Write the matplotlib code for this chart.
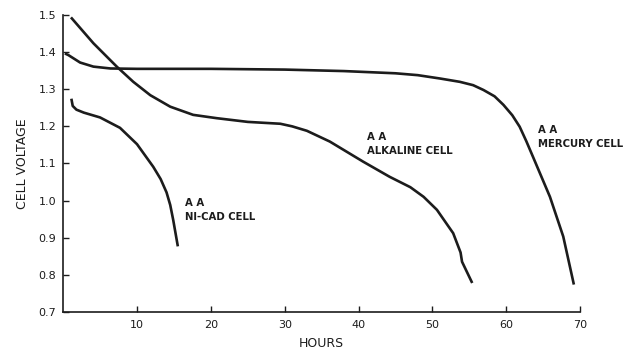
import matplotlib.pyplot as plt

# discharge curves (hours, volts)
nicad_hours = [1.15, 1.3, 1.8, 2.8, 5.0, 7.7, 10.0, 12.2, 13.2, 14.0, 14.5, 14.9, 15.5]
nicad_volts = [1.271, 1.255, 1.245, 1.237, 1.224, 1.196, 1.152, 1.091, 1.058, 1.022, 0.988,
               0.948, 0.88]

alkaline_hours = [1.18, 4.1, 7.26, 9.5, 11.8, 14.5, 17.6, 20.8, 25.0, 29.4, 31.0,
                  33.0, 36.1, 40.6, 44.2, 47.0, 48.8, 50.6, 52.8, 53.8, 54.0, 55.3]
alkaline_volts = [1.491, 1.424, 1.361, 1.32, 1.284, 1.253, 1.231, 1.222, 1.212, 1.207, 1.2,
                  1.188, 1.159, 1.105, 1.064, 1.036, 1.01, 0.975, 0.912, 0.86, 0.835, 0.781]

mercury_hours = [0.4, 0.72, 2.3, 4.1, 6.4, 10.0, 20.0, 30.0, 38.0, 45.0, 48.0,
                 51.0, 53.7, 55.5, 56.9, 58.4, 59.6, 60.8, 61.8, 62.7, 63.6, 65.9, 67.7, 69.1]
mercury_volts = [1.395, 1.392, 1.372, 1.361, 1.356, 1.355, 1.355, 1.353, 1.349, 1.343, 1.338,
                 1.329, 1.32, 1.311, 1.298, 1.281, 1.258, 1.23, 1.199, 1.16, 1.118, 1.01,
                 0.903, 0.777]

x_ticks = [10, 20, 30, 40, 50, 60, 70]
y_ticks = [0.7, 0.8, 0.9, 1.0, 1.1, 1.2, 1.3, 1.4, 1.5]

ink = '#1c1c1c'

fig = plt.figure(figsize=(6.44, 3.5), dpi=100)
ax = fig.add_axes([0.098, 0.109, 0.803, 0.848])

for hrs, volts in [(nicad_hours, nicad_volts), (alkaline_hours, alkaline_volts),
                   (mercury_hours, mercury_volts)]:
    ax.plot(hrs, volts, color=ink, lw=1.9, solid_joinstyle='round')

ax.set_xlim(0, 70)
ax.set_ylim(0.7, 1.5)
ax.set_xticks(x_ticks)
ax.set_yticks(y_ticks)
ax.set_yticklabels([f'{v:.1f}' for v in y_ticks])
ax.tick_params(direction='in', length=4, width=1, colors=ink, labelsize=8)
ax.tick_params(axis='x', pad=6)
ax.tick_params(axis='y', pad=5)

for side in ['top', 'right']:
    ax.spines[side].set_visible(False)
for side in ['left', 'bottom']:
    ax.spines[side].set_linewidth(1.2)
    ax.spines[side].set_color(ink)

ax.set_xlabel('HOURS', fontsize=9, color=ink, labelpad=5)
ax.set_ylabel('CELL VOLTAGE', fontsize=9, color=ink, labelpad=7)

lbl = dict(fontsize=7.3, fontweight='bold', color=ink, linespacing=1.5, va='center')
ax.text(16.5, 0.975, 'A A\nNI-CAD CELL', **lbl)
ax.text(41.1, 1.153, 'A A\nALKALINE CELL', **lbl)
ax.text(64.3, 1.172, 'A A\nMERCURY CELL', **lbl)

fig.savefig('out.png', dpi=100)
